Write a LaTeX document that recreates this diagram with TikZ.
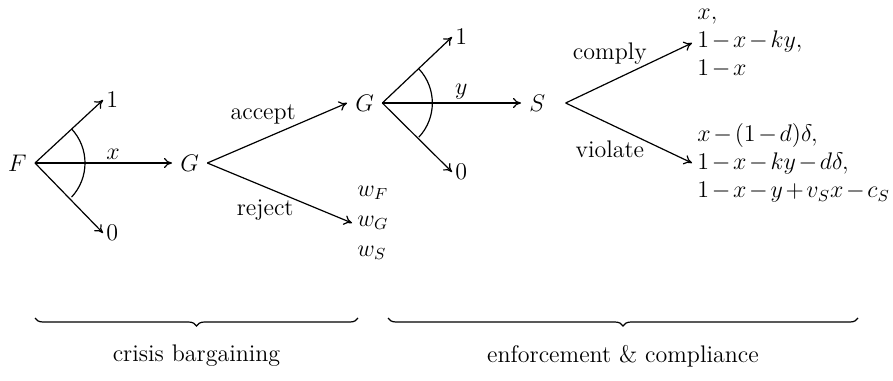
\documentclass[tikz,border=0pt]{standalone}
\usepackage{amsmath,amssymb}
\usetikzlibrary{arrows.meta,decorations.pathreplacing}

\def\mi{\mskip2mu{-}\mskip2mu}   % tight minus for the payoffs
\def\pl{\mskip2mu{+}\mskip2mu}   % tight plus

\begin{document}
\begin{tikzpicture}[x=0.5pt, y=-0.5pt,
    every node/.style={font=\large},
    pl/.style  ={inner xsep=4pt, inner ysep=2pt},
    lab/.style ={inner sep=1.5pt},
    pay/.style ={align=left, inner sep=2.5pt},
    act/.style ={font=\large},
    ar/.style  ={-{To[length=4pt,width=5pt]}, line width=.6pt},
    ang/.style ={line width=.6pt},
    brc/.style ={decorate, decoration={brace, mirror, amplitude=4pt}, line width=.6pt}]
\useasboundingbox (0,0) rectangle (893,380);

\def\RA{50}   % radius of the offer arcs

% ── crisis bargaining ──────────────────────────────────────────────────
\node[pl, anchor=east] (F) at (35,163) {$F$};
\node[lab, right] (F1) at (103,100) {$1$};
\node[lab, right] (F0) at (103,233) {$0$};
\node[pl, anchor=west] (G) at (172,163) {$G$};
\draw[ar] (F.east) -- (F1.west);
\draw[ar] (F.east) -- (F0.west);
\draw[ar] (F.east) -- node[above, pos=.57, lab] {$x$} (G.west);
\draw[ang] ([shift={(43:\RA)}]F.east) arc[start angle=43, end angle=-43, radius=\RA];

\node[pl, anchor=west] (G2) at (347,103) {$G$};
\node[pay, anchor=west] (wout) at (352,223) {$w_F$\\[1pt]$w_G$\\[1pt]$w_S$};
\draw[ar] (G.east) -- node[act, pos=.4, above=4pt] {accept} (G2.west);
\draw[ar] (G.east) -- node[act, pos=.4, below=3pt] {reject} (wout.west);

% ── enforcement & compliance ──────────────────────────────────────────
\node[lab, right] (G1) at (452,37) {$1$};
\node[lab, right] (G0) at (452,172) {$0$};
\node[pl, anchor=west] (S) at (521,103) {$S$};
\draw[ar] (G2.east) -- (G1.west);
\draw[ar] (G2.east) -- (G0.west);
\draw[ar] (G2.east) -- node[above, pos=.57, lab] {$y$} (S.west);
\draw[ang] ([shift={(43:\RA)}]G2.east) arc[start angle=43, end angle=-43, radius=\RA];

\node[pay, anchor=west] (cmp) at (692,43)
  {$x,$\\$1\mi x\mi ky,$\\$1\mi x$};
\node[pay, anchor=west] (vio) at (692,163)
  {$x\mi(1\mi d)\delta,$\\$1\mi x\mi ky\mi d\delta,$\\$1\mi x\mi y\pl v_Sx\mi c_S$};
\draw[ar] ([xshift=6pt]S.east) -- node[act, pos=.35, above=5pt] {comply} (cmp.west);
\draw[ar] ([xshift=6pt]S.east) -- node[act, pos=.35, below=5pt] {violate} (vio.west);

% ── phases ────────────────────────────────────────────────────────────
\coordinate (b1) at (35,318);  \coordinate (b2) at (358,318);
\coordinate (b3) at (388,318); \coordinate (b4) at (858,318);
\draw[brc] (b1) -- node[act, below=10pt] (cb) {crisis bargaining} (b2);
\draw[brc] (b3) -- node[act, below=10pt] (ec) {enforcement \& compliance} (b4);
\end{tikzpicture}
\end{document}
